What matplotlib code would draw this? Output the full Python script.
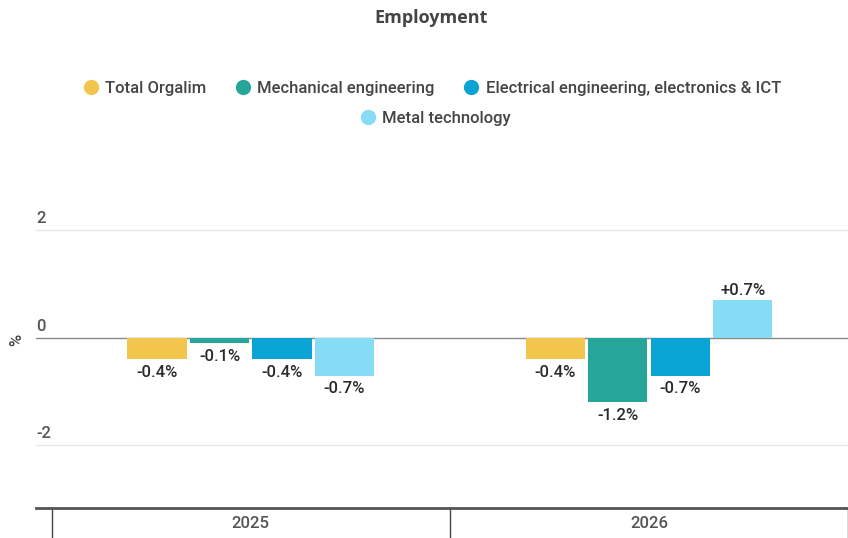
import numpy as np
import matplotlib
matplotlib.use("Agg")
import matplotlib.pyplot as plt
from matplotlib.lines import Line2D

plt.rcParams['font.family'] = ['Roboto', 'DejaVu Sans']

# data
years = ["2025", "2026"]
series = ["Total Orgalim", "Mechanical engineering",
          "Electrical engineering, electronics & ICT", "Metal technology"]
values = {
    "Total Orgalim": [-0.4, -0.4],
    "Mechanical engineering": [-0.1, -1.2],
    "Electrical engineering, electronics & ICT": [-0.4, -0.7],
    "Metal technology": [-0.7, 0.7],
}
colors = ["#f2c64c", "#26a69a", "#0aa4d4", "#86dbf5"]
yticks = [-2, 0, 2]

W, H = 848, 538
fig = plt.figure(figsize=(W / 100, H / 100), dpi=100)
ax = fig.add_axes([36 / W, (H - 508) / H, (W - 36) / W, (508 - 209) / H])

x = np.arange(len(years))
step = 0.157
bw = 0.149
for i, (name, c) in enumerate(zip(series, colors)):
    xs = x + (i - 1.5) * step
    vals = values[name]
    ax.bar(xs, vals, width=bw, color=c, zorder=3)
    for xx, v in zip(xs, vals):
        txt = f"{v:+.1f}%"
        if v < 0:
            ax.annotate(txt, (xx, v), xytext=(0, -4), textcoords="offset points",
                        ha="center", va="top", fontsize=12, color="#2a2a2a",
                        fontweight="medium")
        else:
            ax.annotate(txt, (xx, v), xytext=(0, 2), textcoords="offset points",
                        ha="center", va="bottom", fontsize=12, color="#2a2a2a",
                        fontweight="medium")

ax.set_xlim(-0.5397, 1.475)
ax.set_ylim(-3.163, 2.4)

# gridlines + zero line
for t in yticks:
    if t == 0:
        ax.axhline(t, color="#888888", lw=1.0, zorder=2)
    else:
        ax.axhline(t, color="#e8e8e8", lw=1.0, zorder=1)
    ax.annotate(str(t), (0, t), xycoords=("axes fraction", "data"),
                xytext=(0, 3), textcoords="offset points", ha="left", va="bottom",
                fontsize=12, color="#555", fontweight="medium")
ax.set_yticks([])

for s in ["top", "right", "left"]:
    ax.spines[s].set_visible(False)
ax.spines["bottom"].set_color("#555555")
ax.spines["bottom"].set_linewidth(2)

ax.set_xticks([-0.5, 0.5, 1.5])
ax.set_xticklabels([])
ax.tick_params(axis="x", which="major", length=22, width=1, color="#444")
ax.set_xticks(x, minor=True)
ax.set_xticklabels(years, minor=True)
ax.tick_params(axis="x", which="minor", length=0, pad=6, labelsize=12,
               labelcolor="#555")
for lab in ax.get_xticklabels(minor=True):
    lab.set_fontweight("medium")

fig.text(17 / W, 1 - 340 / H, "%", rotation=90, ha="center", va="center",
         fontsize=12, color="#444", fontweight="medium")

fig.text(431 / W, 1 - 18 / H, "Employment", ha="center", va="center",
         fontsize=13, color="#444", fontweight="bold",
         family=["Open Sans", "DejaVu Sans"])

handles = [Line2D([], [], marker="o", ls="", markersize=11, color=c,
                  markeredgewidth=0) for c in colors]
leg1 = fig.legend(handles[:3], series[:3], loc="center", ncol=3,
                  bbox_to_anchor=(431 / W, 1 - 88 / H), frameon=False,
                  fontsize=12, handletextpad=0.25, columnspacing=1.6,
                  handlelength=1.2, labelcolor="#444")
leg2 = fig.legend(handles[3:], series[3:], loc="center", ncol=1,
                  bbox_to_anchor=(434 / W, 1 - 118 / H), frameon=False,
                  fontsize=12, handletextpad=0.25, handlelength=1.2,
                  labelcolor="#444")
for leg in (leg1, leg2):
    for t in leg.get_texts():
        t.set_fontweight("medium")

fig.savefig("out.png", dpi=100)
